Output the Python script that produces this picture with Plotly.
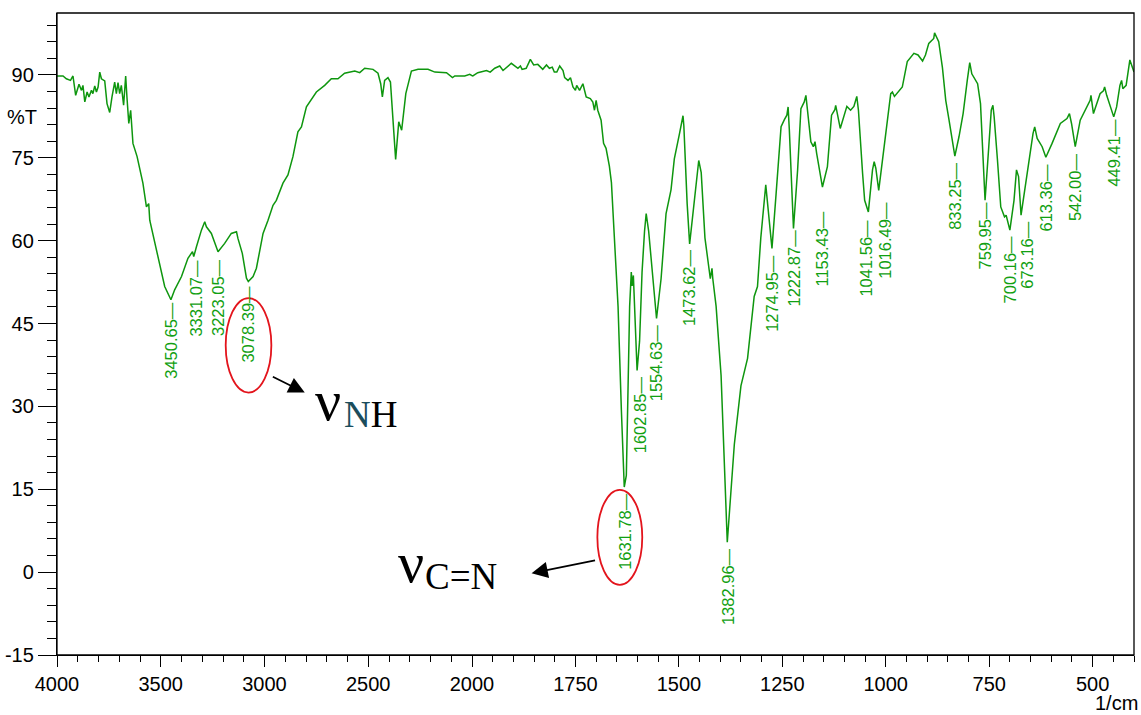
import plotly.graph_objects as go

# ---------------- data ----------------
wavenumber = [
    4000, 3971, 3955, 3935, 3923, 3910, 3894, 3882, 3875, 3866, 3855, 3846, 3834, 3827, 3818,
    3810, 3802, 3794, 3786, 3770, 3759, 3746, 3735, 3722, 3714, 3706, 3698, 3690, 3679, 3669,
    3663, 3654, 3645, 3634, 3614, 3598, 3586, 3569, 3558, 3553, 3521, 3481, 3451, 3433, 3400,
    3369, 3347, 3341, 3328, 3304, 3288, 3280, 3256, 3224, 3192, 3160, 3135, 3128, 3107, 3087,
    3078, 3071, 3055, 3039, 3007, 2983, 2959, 2943, 2927, 2911, 2887, 2863, 2839, 2822, 2798,
    2782, 2750, 2710, 2678, 2646, 2614, 2565, 2541, 2517, 2477, 2453, 2440, 2432, 2421, 2405,
    2393, 2368, 2353, 2339, 2319, 2292, 2260, 2212, 2179, 2123, 2094, 2083, 2035, 2011, 1998,
    1986, 1965, 1956, 1945, 1933, 1925, 1905, 1889, 1883, 1879, 1869, 1859, 1851, 1841, 1829,
    1820, 1813, 1806, 1801, 1795, 1788, 1780, 1776, 1768, 1762, 1756, 1750, 1747, 1740, 1732,
    1724, 1714, 1708, 1704, 1700, 1696, 1688, 1682, 1676, 1668, 1663, 1655, 1647, 1639, 1632,
    1627, 1623, 1619, 1615, 1613, 1610, 1605, 1601, 1595, 1589, 1583, 1579, 1573, 1563, 1554,
    1543, 1531, 1519, 1511, 1499, 1490, 1488, 1480, 1474, 1458, 1452, 1446, 1437, 1424, 1420,
    1418, 1410, 1398, 1383, 1366, 1350, 1334, 1318, 1310, 1302, 1290, 1284, 1275, 1265, 1253,
    1245, 1239, 1236, 1233, 1223, 1213, 1205, 1197, 1193, 1189, 1181, 1175, 1171, 1167, 1153,
    1141, 1131, 1123, 1121, 1110, 1102, 1094, 1085, 1077, 1070, 1066, 1056, 1051, 1042, 1032,
    1028, 1024, 1017, 1012, 1004, 996, 988, 984, 979, 960, 948, 932, 922, 911, 904,
    896, 884, 882, 872, 863, 855, 847, 833, 823, 813, 803, 797, 792, 778, 771,
    760, 751, 745, 741, 738, 730, 722, 713, 709, 700, 690, 684, 679, 673, 660,
    652, 644, 640, 634, 622, 613, 598, 578, 562, 556, 551, 542, 530, 514, 506,
    504, 498, 482, 474, 471, 466, 449, 442, 434, 430, 427, 419, 410, 402, 400,
]
transmittance = [
    89.8, 89.8, 89.3, 89.0, 89.8, 86.3, 88.3, 87.2, 88.1, 85.1, 86.9, 86.0, 87.2, 86.6, 88.0,
    86.9, 87.8, 90.5, 89.3, 88.9, 84.8, 83.2, 86.0, 88.7, 86.6, 88.6, 86.6, 88.1, 84.5, 89.8,
    86.0, 81.2, 83.6, 77.6, 75.2, 72.2, 70.4, 66.1, 66.7, 63.7, 58.3, 51.7, 49.3, 51.1, 53.5,
    56.8, 58.0, 57.1, 58.9, 61.9, 63.4, 62.5, 61.3, 58.0, 59.5, 61.3, 61.6, 60.4, 57.7, 53.2,
    52.6, 52.9, 53.5, 55.0, 61.3, 63.7, 66.4, 67.3, 68.8, 70.4, 71.9, 75.2, 79.7, 80.6, 84.2,
    85.1, 86.9, 88.1, 89.3, 89.3, 90.3, 90.7, 90.4, 91.2, 91.0, 90.3, 88.4, 86.0, 89.0, 89.5,
    88.7, 74.7, 81.5, 80.0, 86.6, 90.7, 91.0, 91.0, 90.5, 90.4, 89.5, 89.8, 89.8, 90.1, 89.8,
    90.4, 90.8, 90.5, 91.2, 91.6, 90.8, 92.1, 91.2, 91.6, 91.0, 91.2, 92.8, 91.8, 91.9, 91.0,
    91.8, 91.2, 91.4, 90.5, 90.5, 91.6, 90.8, 89.5, 89.0, 89.5, 87.8, 87.2, 88.1, 87.2, 88.4,
    86.0, 85.7, 85.1, 83.6, 85.4, 83.6, 81.8, 77.6, 76.7, 73.5, 70.5, 59.3, 48.1, 29.4, 15.4,
    17.5, 35.6, 48.1, 54.3, 51.8, 53.7, 45.0, 36.5, 41.8, 54.3, 61.7, 64.9, 61.7, 53.1, 45.9,
    53.1, 64.9, 69.2, 74.8, 79.2, 82.6, 80.8, 66.7, 59.4, 71.1, 74.5, 72.3, 60.5, 53.1, 55.0,
    53.1, 48.1, 35.6, 5.4, 23.1, 33.7, 38.7, 49.9, 51.7, 60.5, 70.1, 64.9, 58.6, 68.5, 80.6,
    81.9, 82.7, 84.2, 80.0, 62.2, 72.8, 83.9, 85.1, 86.3, 83.6, 77.9, 77.0, 77.9, 75.8, 69.7,
    73.4, 82.7, 83.7, 84.5, 80.3, 82.1, 84.3, 83.6, 84.3, 86.1, 83.6, 72.2, 67.3, 65.2, 72.8,
    74.3, 73.1, 69.1, 72.2, 77.0, 81.8, 86.6, 86.9, 86.1, 87.8, 92.4, 93.9, 93.6, 92.5, 93.6,
    95.7, 96.6, 97.6, 96.0, 91.3, 85.4, 81.8, 75.3, 78.8, 83.0, 89.0, 92.2, 90.2, 88.4, 84.8,
    67.3, 77.0, 83.6, 84.5, 82.4, 74.6, 66.1, 64.3, 64.6, 61.9, 67.3, 72.8, 71.6, 64.6, 71.6,
    75.8, 79.4, 80.6, 78.5, 77.0, 75.1, 77.6, 81.2, 82.1, 83.0, 81.2, 77.0, 81.8, 84.2, 85.4,
    86.3, 83.0, 86.6, 87.1, 87.8, 86.3, 82.4, 84.2, 88.1, 89.0, 87.5, 88.1, 92.7, 91.2, 90.5,
]

peak_labels = ["3450.65", "3331.07", "3223.05", "3078.39", "1631.78", "1602.85", "1554.63",
               "1473.62", "1382.96", "1274.95", "1222.87", "1153.43", "1041.56", "1016.49",
               "833.25", "759.95", "700.16", "673.16", "613.36", "542.00", "449.41"]
peak_label_top = [49.2, 56.8, 56.8, 52.0, 14.5, 35.6, 45.0, 58.7, 4.5, 57.7, 62.2, 65.4,
                  64.0, 67.3, 74.3, 67.0, 61.0, 63.7, 74.0, 75.8, 82.1]

x_ticks_high = [4000, 3500, 3000, 2500, 2000]
x_ticks_low = [1750, 1500, 1250, 1000, 750, 500]
y_ticks = [-15, 0, 15, 30, 45, 60, 75, 90]

# ---------------- styling ----------------
GREEN = "#0e960e"
LABEL_GREEN = "#12a012"
BREAK = 2000
W, H = 1141, 715
ML, MR, MT, MB = 57, 7, 13, 60
split = 415 / (W - ML - MR)   # 4000-2000 section occupies 415 px
# labels whose leader is bent in the reference are nudged sideways (pixels)
label_nudge = {"1602.85": 4, "1041.56": -3, "1016.49": 6, "673.16": 6}

hi_w = [w for w in wavenumber if w >= BREAK]
n_hi = len(hi_w)
# carry one neighbour across the break so the line is continuous (clipped by the axes)
hi_w_ext = wavenumber[:n_hi + 1]
hi_t_ext = transmittance[:n_hi + 1]
lo_w_ext = wavenumber[n_hi - 1:]
lo_t_ext = transmittance[n_hi - 1:]

fig = go.Figure()
fig.add_trace(go.Scatter(x=hi_w_ext, y=hi_t_ext, mode="lines", xaxis="x", yaxis="y",
                         line=dict(color=GREEN, width=1.5), hoverinfo="skip"))
fig.add_trace(go.Scatter(x=lo_w_ext, y=lo_t_ext, mode="lines", xaxis="x2", yaxis="y",
                         line=dict(color=GREEN, width=1.5), hoverinfo="skip"))

sans = "Liberation Sans, Arial, sans-serif"
tickfont = dict(family=sans, size=20, color="black")

annotations = []
for lab, top in zip(peak_labels, peak_label_top):
    w = float(lab)
    annotations.append(dict(
        x=w, y=top, xref="x" if w >= BREAK else "x2", yref="y",
        xshift=label_nudge.get(lab, 0),
        text=lab + "\u2014", textangle=-90, showarrow=False,
        xanchor="center", yanchor="top", borderpad=0,
        font=dict(family=sans, size=16.5, color=LABEL_GREEN)))

serif = "Liberation Serif, Times New Roman, serif"
annotations += [
    dict(x=2696, y=31.0, xref="x", yref="y", text="\u03bd", showarrow=False,
         xanchor="center", yanchor="middle",
         font=dict(family=serif, size=58, color="black")),
    dict(x=2487, y=28.6, xref="x", yref="y",
         text="<span style='color:#1b4d5c'>N</span>H", showarrow=False,
         xanchor="center", yanchor="middle",
         font=dict(family=serif, size=37, color="black")),
    dict(x=2295, y=1.7, xref="x", yref="y", text="\u03bd", showarrow=False,
         xanchor="center", yanchor="middle",
         font=dict(family=serif, size=58, color="black")),
    dict(x=2054, y=-0.85, xref="x", yref="y", text="C=N", showarrow=False,
         xanchor="center", yanchor="middle",
         font=dict(family=serif, size=37, color="black")),
    # arrows
    dict(x=2806, y=32.5, ax=2967, ay=35.5, xref="x", yref="y", axref="x", ayref="y",
         text="", showarrow=True, arrowhead=2, arrowsize=1.8, arrowwidth=1.8,
         arrowcolor="black"),
    dict(x=1856, y=-0.2, ax=1699, ay=2.2, xref="x2", yref="y", axref="x2", ayref="y",
         text="", showarrow=True, arrowhead=2, arrowsize=1.8, arrowwidth=1.8,
         arrowcolor="black"),
    # axis captions
    dict(x=-0.0323, y=0.8385, xref="paper", yref="paper", text="%T", showarrow=False,
         xanchor="center", yanchor="middle", font=tickfont),
    dict(x=0.984, y=-0.0742, xref="paper", yref="paper", text="1/cm", showarrow=False,
         xanchor="center", yanchor="middle", font=tickfont),
]

shapes = [
    dict(type="rect", xref="paper", yref="paper", x0=0, x1=1, y0=0, y1=1,
         line=dict(color="black", width=1.3), layer="above"),
    dict(type="circle", xref="x", yref="y", x0=3187, x1=2967, y0=32.5, y1=49.6,
         line=dict(color="#e3141c", width=1.8)),
    dict(type="circle", xref="x2", yref="y", x0=1697, x1=1588.5, y0=-2.3, y1=14.9,
         line=dict(color="#e3141c", width=1.8)),
]

axis_common = dict(showgrid=False, zeroline=False, showline=True, linecolor="black",
                   linewidth=1.3, ticks="outside", tickwidth=1.3, tickcolor="black",
                   tickfont=tickfont, automargin=False)

fig.update_layout(
    width=W, height=H, autosize=False,
    margin=dict(l=ML, r=MR, t=MT, b=MB, pad=0, autoexpand=False),
    paper_bgcolor="white", plot_bgcolor="white",
    showlegend=False,
    annotations=annotations, shapes=shapes,
    xaxis=dict(domain=[0, split], range=[4000, BREAK], tickvals=x_ticks_high,
               ticktext=[str(v) for v in x_ticks_high], ticklen=11, anchor="y",
               minor=dict(dtick=100, tick0=0, ticks="outside", ticklen=6,
                          tickwidth=1.2, tickcolor="black", showgrid=False),
               **axis_common),
    xaxis2=dict(domain=[split, 1], range=[BREAK, 400], tickvals=x_ticks_low,
                ticktext=[str(v) for v in x_ticks_low], ticklen=11, anchor="y",
                minor=dict(dtick=50, tick0=0, ticks="outside", ticklen=6,
                           tickwidth=1.2, tickcolor="black", showgrid=False),
                **axis_common),
    yaxis=dict(range=[-15, 101.2], tickvals=y_ticks,
               ticktext=[str(v) for v in y_ticks], ticklen=18, anchor="x",
               minor=dict(dtick=3, tick0=0, ticks="outside", ticklen=9,
                          tickwidth=1.2, tickcolor="black", showgrid=False),
               **axis_common),
)

fig.write_html(
    "out.html",
    config={"responsive": False, "displayModeBar": False},
    default_width="1141px", default_height="715px",
    post_script="document.body.style.margin='0px';"
                "document.body.style.overflow='hidden';"
                "document.documentElement.style.overflow='hidden';",
)
